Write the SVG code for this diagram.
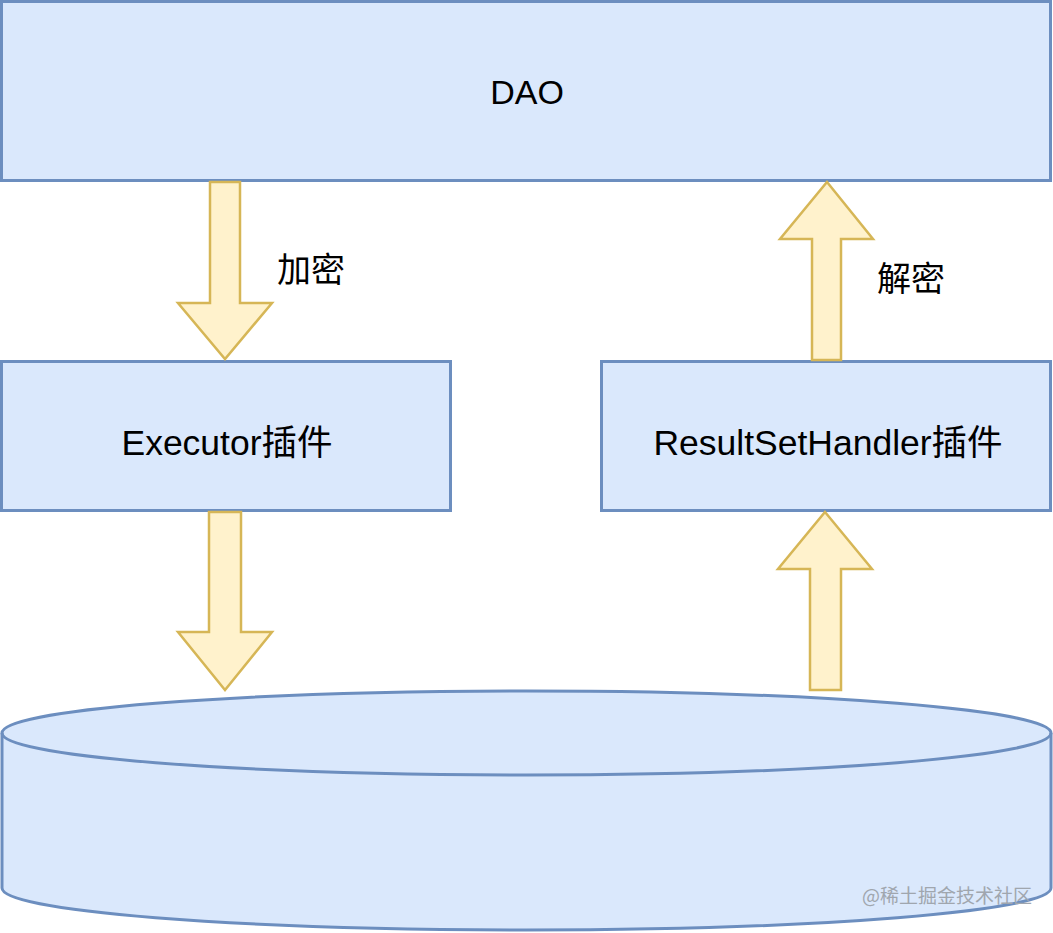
<svg xmlns="http://www.w3.org/2000/svg" width="1053" height="933" viewBox="0 0 1053 933">
<style>
.box{fill:#dae8fc;stroke:#6c8ebf;stroke-width:3}
.arr{fill:#fff2cc;stroke:#d6b656;stroke-width:2.5;stroke-linejoin:miter}
.t{font-family:"Liberation Sans","Noto Sans CJK SC",sans-serif;font-size:34px;fill:#000;text-anchor:middle}
.t2{font-size:35.5px}
.wm{font-family:"Noto Sans CJK SC",sans-serif;font-size:19px;fill:#a0a6ae;text-anchor:middle}
</style>
<rect width="1053" height="933" fill="#ffffff"/>
<g id="dao">
<rect class="box" x="1.5" y="1.5" width="1049" height="179"/>
<text class="t" x="527" y="104">DAO</text>
</g>
<g id="executor">
<rect class="box" x="1.5" y="361.5" width="449" height="149"/>
<text class="t t2" x="227" y="455">Executor插件</text>
</g>
<g id="resultsethandler">
<rect class="box" x="601.5" y="361.5" width="449" height="149"/>
<text class="t t2" x="828" y="455">ResultSetHandler插件</text>
</g>
<g id="database">
<path class="box" d="M2,733 A524.5,42 0 0 1 1051,733 L1051,888 A524.5,42 0 0 1 2,888 Z"/>
<path d="M2,733 A524.5,42 0 0 0 1051,733" fill="none" stroke="#6c8ebf" stroke-width="3"/>
</g>
<g id="connectors">
<polygon class="arr" points="210,182 240,182 240,303 272,303 225,359 178,303 210,303"/>
<polygon class="arr" points="209,512 241,512 241,632 272,632 225,690 178,632 209,632"/>
<polygon class="arr" points="827,182 873,239 841,239 841,360 812,360 812,239 780,239"/>
<polygon class="arr" points="825,512 872,569 841,569 841,690 810,690 810,569 778,569"/>
</g>
<g id="labels">
<text class="t" x="311" y="282">加密</text>
<text class="t" x="911" y="291">解密</text>
</g>
<text class="wm" x="947" y="903">@稀土掘金技术社区</text>
</svg>
